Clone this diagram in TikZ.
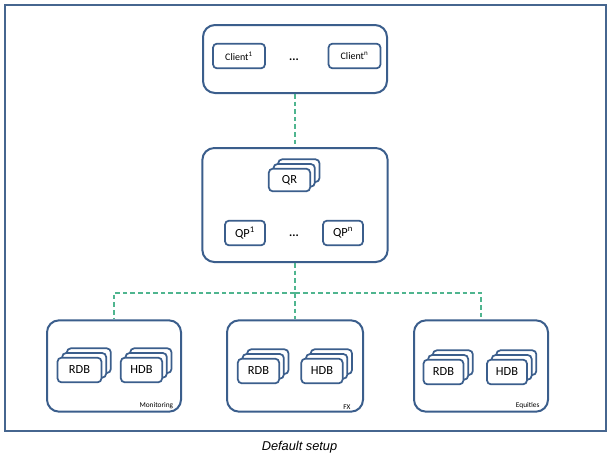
\documentclass[tikz,border=0pt]{standalone}
\usepackage{fontspec}
\setmainfont{Carlito}
\newfontfamily\captionfont{Liberation Sans}
\usetikzlibrary{shadows}
\definecolor{boxblue}{HTML}{3B5E8C}
\definecolor{frameblue}{HTML}{46668F}
\definecolor{linkgreen}{HTML}{4FB58F}

\begin{document}
\begin{tikzpicture}[
    x=0.75pt, y=-0.75pt,
    group/.style={draw=boxblue, line width=1.5pt, rounded corners=9pt, fill=white,
      inner sep=0pt},
    item/.style={draw=boxblue, line width=1.3pt, rounded corners=3pt, fill=white,
      inner sep=0pt, minimum height=18.5pt, font=\fontsize{9.3}{11}\selectfont},
    stackbox/.style={item,
      copy shadow={shadow xshift=7pt, shadow yshift=7pt, opacity=1, fill=white,
        draw=boxblue, line width=1.3pt},
      copy shadow={shadow xshift=3.5pt, shadow yshift=3.5pt, opacity=1, fill=white,
        draw=boxblue, line width=1.3pt}},
    dots/.style={font=\bfseries\fontsize{9}{11}\selectfont, inner sep=0pt},
    tag/.style={font=\fontsize{5.5}{6}\selectfont, inner sep=0pt, anchor=south east},
    link/.style={draw=linkgreen, line width=0.9pt, dash pattern=on 3.5pt off 2.2pt}
  ]
    \useasboundingbox (0,0) rectangle (613,464);
    \draw[frameblue, line width=1.5pt] (5,5) rectangle (606,431);

    % client layer
    \node[group, minimum width=138pt, minimum height=51pt] (clients) at (295,59) {};
    \node[item, minimum width=39pt, font=\fontsize{7.5}{9}\selectfont] (client1) at (239,56) {Client\textsuperscript{1}};
    \node[item, minimum width=39pt, font=\fontsize{7.5}{9}\selectfont] (clientn) at (354.5,56) {Client\textsuperscript{n}};
    \node[dots] (cdots) at (294,60) {...};

    % query layer
    \node[group, minimum width=139pt, minimum height=85.5pt] (query) at (295,205) {};
    \node[stackbox, minimum width=31pt, minimum height=17pt] (qr) at (289.5,180) {QR};
    \node[item, minimum width=30pt] (qp1) at (245,233) {QP\textsuperscript{1}};
    \node[item, minimum width=30pt] (qpn) at (343,233) {QP\textsuperscript{n}};
    \node[dots] (qdots) at (294,236) {...};

    % data layer
    \node[group, minimum width=100.5pt, minimum height=68.5pt] (mon) at (114,366) {};
    \node[group, minimum width=102pt, minimum height=68.5pt] (fx) at (295,366) {};
    \node[group, minimum width=100.5pt, minimum height=68.5pt] (eq) at (481,366) {};

    \node[stackbox, minimum width=33pt] (monrdb) at (79.5,370) {RDB};
    \node[stackbox, minimum width=31pt] (monhdb) at (141.5,370) {HDB};
    \node[stackbox, minimum width=31pt] (fxrdb) at (258.5,371) {RDB};
    \node[stackbox, minimum width=31pt] (fxhdb) at (322,371) {HDB};
    \node[stackbox, minimum width=30pt] (eqrdb) at (443.5,372) {RDB};
    \node[stackbox, minimum width=30pt] (eqhdb) at (507,372) {HDB};

    \node[tag] (monlbl) at ([xshift=-6.5pt, yshift=2.5pt]mon.south east) {Monitoring};
    \node[tag] (fxlbl) at ([xshift=-10pt, yshift=2.5pt]fx.south east) {FX};
    \node[tag] (eqlbl) at ([xshift=-7pt, yshift=2.5pt]eq.south east) {Equities};

    % links
    \draw[link] (clients.south) -- (query.north);
    \draw[link] (query.south) -- (fx.north);
    \draw[link] (query.south) -- ++(0,30) -| (mon.north);
    \draw[link] (query.south) -- ++(0,30) -| (eq.north);

    \node[font=\captionfont\itshape\fontsize{9.6}{11}\selectfont] (caption) at (299.5,447) {Default setup};
  \end{tikzpicture}
\end{document}
